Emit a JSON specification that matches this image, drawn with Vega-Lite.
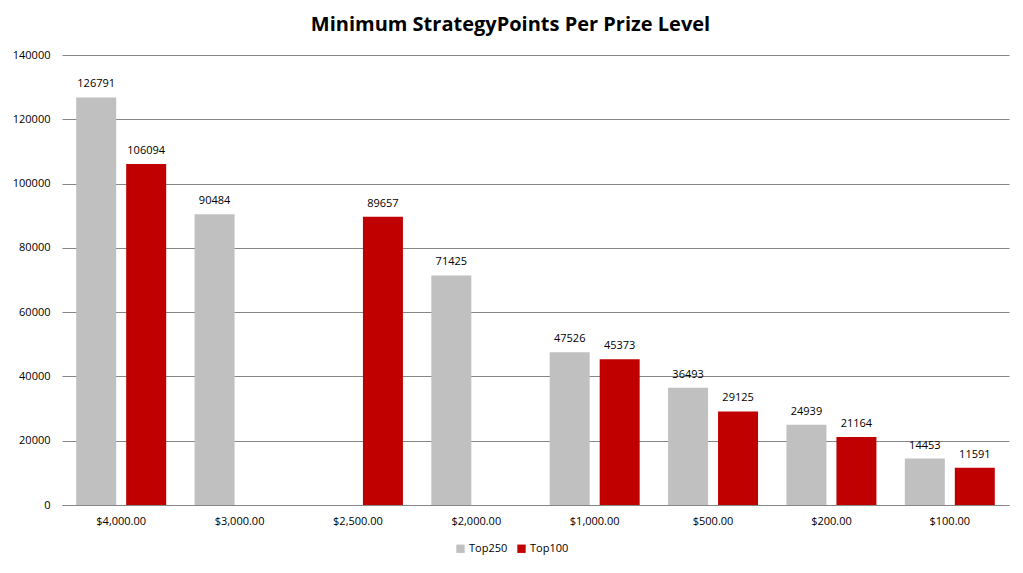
{
  "$schema": "https://vega.github.io/schema/vega-lite/v6.json",
  "autosize": {"type": "none"},
  "width": 947,
  "height": 450,
  "padding": {"left": 62, "top": 55, "right": 14, "bottom": 68},
  "background": "white",
  "title": {
    "text": "Minimum StrategyPoints Per Prize Level",
    "font": "Open Sans",
    "fontSize": 20,
    "fontWeight": "bold",
    "color": "#000000",
    "anchor": "middle",
    "dx": -25,
    "offset": 14
  },
  "data": {
    "values": [
      {"prize": "$4,000.00", "series": "Top250", "points": 126791},
      {"prize": "$4,000.00", "series": "Top100", "points": 106094},
      {"prize": "$3,000.00", "series": "Top250", "points": 90484},
      {"prize": "$2,500.00", "series": "Top100", "points": 89657},
      {"prize": "$2,000.00", "series": "Top250", "points": 71425},
      {"prize": "$1,000.00", "series": "Top250", "points": 47526},
      {"prize": "$1,000.00", "series": "Top100", "points": 45373},
      {"prize": "$500.00", "series": "Top250", "points": 36493},
      {"prize": "$500.00", "series": "Top100", "points": 29125},
      {"prize": "$200.00", "series": "Top250", "points": 24939},
      {"prize": "$200.00", "series": "Top100", "points": 21164},
      {"prize": "$100.00", "series": "Top250", "points": 14453},
      {"prize": "$100.00", "series": "Top100", "points": 11591}
    ]
  },
  "encoding": {
    "x": {
      "field": "prize",
      "type": "nominal",
      "sort": ["$4,000.00", "$3,000.00", "$2,500.00", "$2,000.00", "$1,000.00", "$500.00", "$200.00", "$100.00"],
      "scale": {"paddingInner": 0, "paddingOuter": 0},
      "axis": {
        "title": null,
        "labelAngle": 0,
        "labelFont": "Open Sans",
        "labelFontSize": 11,
        "labelColor": "#000000",
        "labelPadding": 10,
        "ticks": false,
        "domainColor": "#868686",
        "grid": false
      }
    },
    "xOffset": {
      "field": "series",
      "type": "nominal",
      "scale": {"domain": ["Top250", "Top100"], "paddingInner": 0.2, "paddingOuter": 0.284}
    },
    "y": {
      "field": "points",
      "type": "quantitative",
      "scale": {"domain": [0, 140000]},
      "axis": {
        "title": null,
        "values": [0, 20000, 40000, 60000, 80000, 100000, 120000, 140000],
        "format": "d",
        "labelFont": "Open Sans",
        "labelFontSize": 11,
        "labelColor": "#000000",
        "labelPadding": 12,
        "ticks": false,
        "domain": false,
        "gridColor": "#868686",
        "gridWidth": 1
      }
    }
  },
  "layer": [
    {
      "mark": {"type": "bar"},
      "encoding": {
        "color": {
          "field": "series",
          "type": "nominal",
          "scale": {"domain": ["Top250", "Top100"], "range": ["#C0C0C0", "#C00000"]},
          "legend": {
            "title": null,
            "orient": "none",
            "legendX": 393,
            "legendY": 488,
            "direction": "horizontal",
            "symbolType": "square",
            "symbolSize": 70,
            "symbolStrokeWidth": 0,
            "labelFont": "Open Sans",
            "labelFontSize": 11,
            "labelColor": "#000000",
            "columnPadding": 8,
            "labelOffset": 3
          }
        }
      }
    },
    {
      "mark": {
        "type": "text",
        "baseline": "bottom",
        "dy": -8,
        "font": "Open Sans",
        "fontSize": 11,
        "color": "#000000"
      },
      "encoding": {
        "text": {"field": "points", "type": "quantitative", "format": "d"}
      }
    }
  ],
  "config": {
    "view": {"stroke": null}
  }
}
